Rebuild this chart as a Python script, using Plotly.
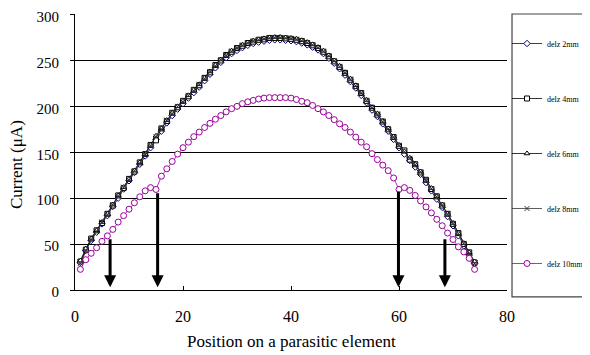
import plotly.graph_objects as go

positions = list(range(1, 75))

delz_2mm = [30,43,54,63,72,81,91,100,110,119,128,137,146,155,164,173,182,190,197,203,
            209,215,221,228,235,242,248,253,257.5,261,264,266.5,268.5,270,271,272,272.5,272.5,272,271.5,
            270.5,269,267,264.5,261.5,257.5,252.5,247,241,234,227,220,212,204,196,189,181,173,164,155,
            148,141,134,126,117,108,99,90,80,70,59,48,38,29]
delz_4mm = [31,44,56,65,73,83,92,103,111,121,129,139,148,158,163,176,184,193,199,206,
            211,218,223,231,237,245,250,256,259.5,263.5,266,269,270.5,272.5,273,274.5,274.5,274.5,274,273.5,
            272.5,271,269,266.5,263.5,259.5,254.5,249,243,236.5,229,222,214.5,206,198.5,191,183.5,175,166.5,157,
            152,142,137,128,120,110,102,92,83,72,62,50,41,30]
delz_6mm = [32,45,56,65,74,83,93,103,112,121,130,139,148,158,168,176,185,193,200,206,
            212,218,224,231,238,245,251,256,260.5,264,267,269.5,271.5,273,274,275,275.5,275.5,275,274.5,
            273.5,272,270,267.5,264.5,260.5,255.5,250,244,237,230,223,215,207,199,192,184,176,167,158,
            151,144,137,129,120,111,102,93,83,73,62,51,41,31]
delz_8mm = [29,43,55,64,74,82,93,102,112,120,130,138,148,157,167,175,185,192,200,205,
            212,217,224,230,238,244,251,255.5,260,263.5,266.5,269,271,272.5,273.5,274.5,275,275,274.5,274,
            273,271.5,269.5,267,264,260,255,249.5,243.5,236.5,229.5,222.5,214.5,206.5,198.5,191.5,183.5,175.5,166.5,157.5,
            150.5,143.5,136.5,128.5,119.5,110.5,101.5,92.5,82.5,72.5,61.5,50.5,40,29]
delz_10mm = [22.5,33,40,46,53,59,66,74,81,88,95,101.5,108,111.5,109.5,124,132,140,148,155,
             161,167,172,177,181.5,186,190,194,197.5,200,203,205,206.5,208,209,209.5,209.5,209.5,209.5,209,
             207.5,205.5,204,201,197.5,194,190,185.5,181,177,172,166.5,161,156,148.5,142,136,130,122,109.5,
             111.5,108.5,103,97,90.5,84,77,70,62,55,47,41.5,34.5,22.5]

series_names = ["delz 2mm", "delz 4mm", "delz 6mm", "delz 8mm", "delz 10mm"]
series_values = [delz_2mm, delz_4mm, delz_6mm, delz_8mm, delz_10mm]
series_colors = ["#000080", "#000000", "#000000", "#333333", "#990099"]
series_symbols = ["diamond", "square", "triangle-up", "x-thin", "circle"]
series_sizes = [5, 5, 5, 5, 6]

arrow_x = [6.5, 15.3, 59.9, 68.5]
arrow_top = [57, 107, 109, 57]

x_ticks = [0, 20, 40, 60, 80]
y_ticks = [0, 50, 100, 150, 200, 250, 300]

FONT = "Liberation Serif"

fig = go.Figure()
for i, (name, vals, col, sym, sz) in enumerate(zip(series_names, series_values, series_colors, series_symbols, series_sizes)):
    if sym == "x-thin":
        marker = dict(symbol=sym, size=sz, line=dict(color=col, width=1), color=col)
    else:
        marker = dict(symbol=sym, size=sz, color="white", line=dict(color=col, width=1))
    fig.add_trace(go.Scatter(
        x=positions, y=vals, name=name, mode="lines+markers",
        line=dict(color=col, width=0.8), marker=marker, legendgroup=name,
    ))

annotations = []
for ax_, top in zip(arrow_x, arrow_top):
    annotations.append(dict(
        x=ax_, y=3, ax=ax_, ay=top, xref="x", yref="y", axref="x", ayref="y",
        text="", showarrow=True, arrowhead=2, arrowsize=0.8, arrowwidth=3, arrowcolor="black",
    ))
annotations.append(dict(
    text="Current (μA)", x=-0.134, y=0.453, xref="paper", yref="paper", textangle=-90,
    showarrow=False, font=dict(family=FONT, size=17, color="black"), xanchor="center", yanchor="middle",
))
annotations.append(dict(
    text="Position on a parasitic element", x=0.502, y=-0.188, xref="paper", yref="paper",
    showarrow=False, font=dict(family=FONT, size=17, color="black"), xanchor="center", yanchor="middle",
))

fig.update_layout(
    width=582, height=347, autosize=False,
    margin=dict(l=67, r=83, t=6, b=65, autoexpand=False),
    paper_bgcolor="white", plot_bgcolor="white",
    font=dict(family=FONT, color="black"),
    annotations=annotations,
    legend=dict(
        x=1.0, y=0.9457, xanchor="left", yanchor="top",
        font=dict(family=FONT, size=8, color="black"),
        tracegroupgap=36, itemwidth=30, bgcolor="rgba(0,0,0,0)",
    ),
    shapes=[dict(type="rect", xref="paper", yref="paper",
                 x0=1.0116, x1=1.19, y0=-0.025, y1=1.0,
                 line=dict(color="#444444", width=1.2))],
    xaxis=dict(range=[0, 80], tickvals=x_ticks, ticks="inside", ticklen=4, tickcolor="black",
               showline=True, linecolor="black", linewidth=1, showgrid=False, zeroline=False,
               tickfont=dict(family=FONT, size=16), ticklabelstandoff=12, ticklabeloverflow="allow"),
    yaxis=dict(range=[0, 300.6], tickvals=y_ticks, ticks="outside", ticklen=4, tickcolor="black",
               showline=True, linecolor="black", linewidth=1, showgrid=True, gridcolor="black",
               gridwidth=1, zeroline=False, tickfont=dict(family=FONT, size=15), ticklabelstandoff=8,
               ticklabelshift=2, ticklabeloverflow="allow"),
)

fig.write_html("out.html")
